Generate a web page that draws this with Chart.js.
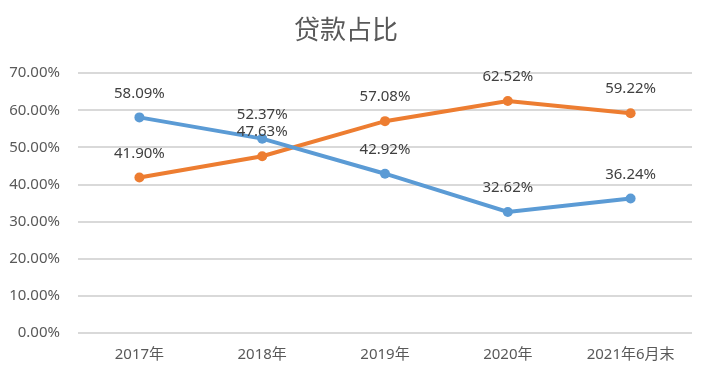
<!DOCTYPE html>
<html><head><meta charset="utf-8">
<script src="https://cdn.jsdelivr.net/npm/chart.js@4"></script>
<style>html,body{margin:0;padding:0;background:#fff;}#wrap{width:701px;height:370px;}</style>
</head><body><div id="wrap"><canvas id="c" width="701" height="370"></canvas></div>
<script>
const categories = ['2017年','2018年','2019年','2020年','2021年6月末'];
const blueSeries = [58.09, 52.37, 42.92, 32.62, 36.24];
const orangeSeries = [41.90, 47.63, 57.08, 62.52, 59.22];
const titleText = '贷款占比';

const labelPlugin = {
  id: 'pointLabels',
  afterDatasetsDraw(chart) {
    const ctx = chart.ctx;
    ctx.save();
    ctx.font = '15px "Noto Sans", "Noto Sans CJK SC", sans-serif';
    ctx.fillStyle = '#404040';
    ctx.textAlign = 'center';
    ctx.textBaseline = 'middle';
    chart.data.datasets.forEach((ds, i) => {
      const meta = chart.getDatasetMeta(i);
      meta.data.forEach((pt, j) => {
        ctx.fillText(ds.data[j].toFixed(2) + '%', pt.x, pt.y - 24);
      });
    });
    ctx.restore();
  }
};

new Chart(document.getElementById('c'), {
  type: 'line',
  data: {
    labels: categories,
    datasets: [
      { data: blueSeries, borderColor: '#5B9BD5', backgroundColor: '#5B9BD5', borderWidth: 4, pointRadius: 5, pointBorderWidth: 0, pointBackgroundColor: '#5B9BD5' },
      { data: orangeSeries, borderColor: '#ED7D31', backgroundColor: '#ED7D31', borderWidth: 4, pointRadius: 5, pointBorderWidth: 0, pointBackgroundColor: '#ED7D31' }
    ]
  },
  options: {
    responsive: false,
    animation: false,
    layout: { padding: { left: 0, right: 9, top: 14, bottom: 0 } },
    plugins: {
      legend: { display: false },
      tooltip: { enabled: false },
      title: { display: true, text: titleText, color: '#595959', font: { size: 26, family: '"Noto Sans CJK SC", sans-serif', weight: 'normal' }, padding: { top: 0, bottom: 28 } }
    },
    scales: {
      x: {
        offset: true,
        afterFit: s => { s.height = 37; },
        grid: { display: false, drawTicks: false },
        border: { display: false },
        ticks: { color: '#595959', padding: 13, maxRotation: 0, font: { size: 15, family: '"Noto Sans", "Noto Sans CJK SC", sans-serif' } }
      },
      y: {
        min: 0, max: 70,
        afterFit: s => { s.width = 78; },
        grid: { color: '#d9d9d9', lineWidth: 2, drawTicks: false },
        border: { display: false },
        ticks: { stepSize: 10, color: '#595959', padding: 18, font: { size: 15, family: '"Noto Sans", sans-serif' }, callback: v => v.toFixed(2) + '%' }
      }
    }
  },
  plugins: [labelPlugin]
});
</script></body></html>
